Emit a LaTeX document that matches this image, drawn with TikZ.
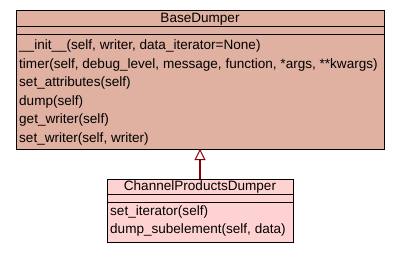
\documentclass[tikz,border=0pt]{standalone}
\usepackage{fontspec}
\setmainfont{Liberation Sans}
\usetikzlibrary{arrows.meta}
\definecolor{basefill}{RGB}{224,176,160}
\definecolor{childfill}{RGB}{255,210,210}
\definecolor{inheritcol}{RGB}{139,0,0}
\tikzset{
  classbox/.style={draw=black, line width=0.9bp, inner sep=0pt, outer sep=0pt},
  member/.style={anchor=base west, inner sep=0pt, font=\fontsize{13.6}{15}\selectfont},
  title/.style={anchor=base, inner sep=0pt, font=\fontsize{13.6}{15}\selectfont},
  sep/.style={draw=black, line width=0.9bp},
  inherit/.style={draw=inheritcol, line width=2bp,
    -{Triangle[open, length=11bp, width=11bp, fill=white, line width=1bp]}}
}
\begin{document}
\begin{tikzpicture}[x=1bp,y=-1bp]
\useasboundingbox (0,0) rectangle (400,253);
% BaseDumper class
\node[classbox, fill=basefill, minimum width=368bp, minimum height=139bp] (base) at (200,79.5) {};
\node[title] (basetitle) at (200,22) {BaseDumper};
\draw[sep] (base.west |- 0,26.7) -- (base.east |- 0,26.7);
\draw[sep] (base.west |- 0,34) -- (base.east |- 0,34);
\node[member] (m1) at (19,49.5) {\_\_init\_\_(self, writer, data\_iterator=None)};
\node[member] (m2) at (19,68) {timer(self, debug\_level, message, function, *args, **kwargs)};
\node[member] (m3) at (19,86.5) {set\_attributes(self)};
\node[member] (m4) at (19,105) {dump(self)};
\node[member] (m5) at (19,123.5) {get\_writer(self)};
\node[member] (m6) at (19,142) {set\_writer(self, writer)};
% ChannelProductsDumper class
\node[classbox, fill=childfill, minimum width=186bp, minimum height=63bp] (child) at (200,210.5) {};
\node[title] (childtitle) at (200,190) {ChannelProductsDumper};
\draw[sep] (child.west |- 0,194.5) -- (child.east |- 0,194.5);
\draw[sep] (child.west |- 0,202) -- (child.east |- 0,202);
\node[member] (c1) at (110,215) {set\_iterator(self)};
\node[member] (c2) at (110,233.5) {dump\_subelement(self, data)};
% generalisation
\draw[inherit] (child.north) -- (base.south);
\end{tikzpicture}
\end{document}
